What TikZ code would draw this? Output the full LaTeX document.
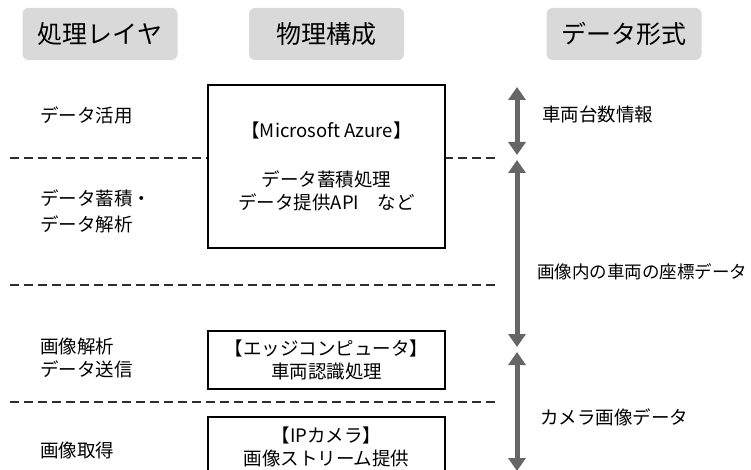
\documentclass[tikz,border=0pt]{standalone}
\usepackage{fontspec}
\setmainfont{Noto Sans CJK JP}
\usepackage{xcolor}
\definecolor{hdrgray}{RGB}{217,217,217}
\definecolor{arrgray}{RGB}{102,102,102}
\definecolor{dashgray}{RGB}{45,45,45}
\usepackage{tikz}
\usetikzlibrary{arrows.meta,positioning}

\begin{document}
\begin{tikzpicture}[x=1pt,y=-1pt,
  hdr/.style={fill=hdrgray,rounded corners=6pt,minimum width=155pt,minimum height=52pt,font=\fontsize{25}{29}\selectfont},
  unit/.style={draw=black,fill=white,line width=2.5pt,minimum width=237pt,align=center,font=\fontsize{18.5}{23}\selectfont},
  lbl/.style={anchor=west,align=left,inner xsep=0pt,font=\fontsize{18.5}{23}\selectfont},
  sep/.style={draw=dashgray,line width=1.8pt,dash pattern=on 9pt off 5pt},
  flow/.style={draw=arrgray,line width=5pt,{Triangle[width=17pt,length=13pt]}-{Triangle[width=17pt,length=13pt]}}
]
  \useasboundingbox (0,0) rectangle (751,470);

  % Header
  \node[hdr] (h1) at (100,34) {処理レイヤ};
  \node[hdr] (h2) at (326.5,34) {物理構成};
  \node[hdr] (h3) at (624,34) {データ形式};

  % Layer borders
  \coordinate (s1l) at (10,158);  \coordinate (s1r) at (497,158);
  \coordinate (s2l) at (10,285);  \coordinate (s2r) at (497,285);
  \coordinate (s3l) at (10,402);  \coordinate (s3r) at (497,402);
  \draw[sep] (s1l) -- (s1r);
  \draw[sep] (s2l) -- (s2r);
  \draw[sep] (s3l) -- (s3r);

  % Layers
  \node[lbl] (l1) at (40,115) {データ活用};
  \node[lbl] (l2) at (40,211) {データ蓄積・\\[3pt]データ解析};
  \node[lbl] (l3) at (40,358) {画像解析\\データ送信};
  \node[lbl] (l4) at (40,450) {画像取得};

  % Components
  \node[unit,minimum height=163pt] (azure) at (326.5,166.5)
    {【Microsoft Azure】\\[26pt]データ蓄積処理\\データ提供API\quad など};
  \node[unit,minimum height=58pt] (edge) at (326.5,360)
    {【エッジコンピュータ】\\車両認識処理};
  \node[unit,minimum height=60pt] (cam) at (326.5,447)
    {【IPカメラ】\\画像ストリーム提供};

  % Data formats
  \coordinate (a1t) at (517,87);   \coordinate (a1b) at (517,155);
  \coordinate (a2t) at (517,160);  \coordinate (a2b) at (517,347);
  \coordinate (a3t) at (517,352);  \coordinate (a3b) at (517,471);
  \draw[flow] (a1t) -- (a1b);
  \draw[flow] (a2t) -- (a2b);
  \draw[flow] (a3t) -- (a3b);
  \node[lbl] (d1) at (542,114) {車両台数情報};
  \node[lbl,font=\fontsize{17.5}{23}\selectfont] (d2) at (537,272) {画像内の車両の座標データ};
  \node[lbl] (d3) at (540,417) {カメラ画像データ};
\end{tikzpicture}
\end{document}
